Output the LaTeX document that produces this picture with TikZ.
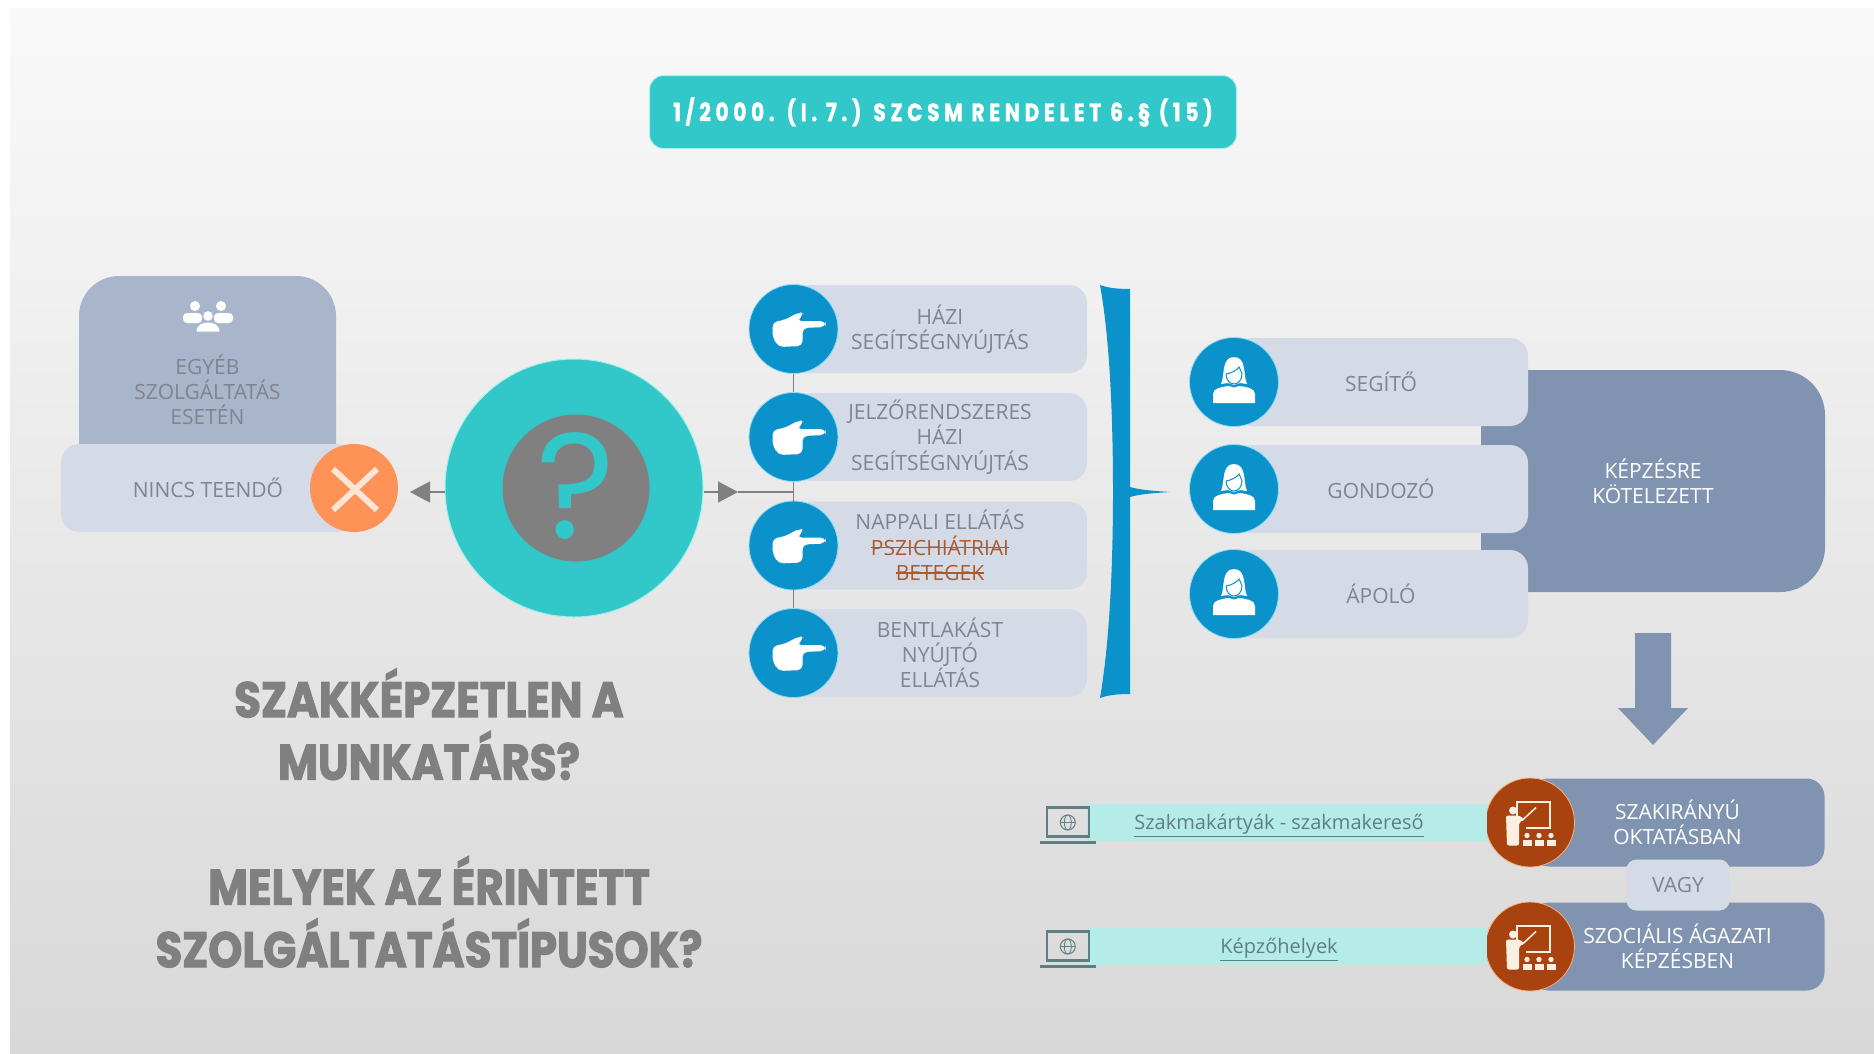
\documentclass[tikz,border=0pt]{standalone}
\usepackage{fontspec}
\usepackage{xcolor}
\usepackage{tikz}
\usetikzlibrary{positioning,arrows.meta}
\setmainfont{Open Sans}
\newfontfamily\headfont[FakeStretch=.87,BoldFeatures={FakeBold=2}]{Poppins}
\newfontfamily\titlefont[FakeStretch=.8,LetterSpace=19,BoldFeatures={FakeBold=1.5}]{Poppins}
\newfontfamily\signfont{Poppins}
\newsavebox{\strikebox}
\newcommand{\strikeit}[1]{\sbox{\strikebox}{#1}\rlap{\rule[.32em]{\wd\strikebox}{1.2pt}}\usebox{\strikebox}}
\definecolor{bgtop}{HTML}{F9F9F9}
\definecolor{bgbot}{HTML}{D8D8D8}
\definecolor{tealmain}{HTML}{32C8C9}
\definecolor{tealedge}{HTML}{A5F0EC}
\definecolor{bluedot}{HTML}{0C92CB}
\definecolor{bluedge}{HTML}{8FDDF5}
\definecolor{barlight}{HTML}{D5DBE6}
\definecolor{barmid}{HTML}{A9B5CA}
\definecolor{bardark}{HTML}{8094B1}
\definecolor{txtgrey}{HTML}{7F8590}
\definecolor{midgrey}{HTML}{808080}
\definecolor{orangedot}{HTML}{FF9257}
\definecolor{crossline}{HTML}{FBE5D6}
\definecolor{brownedge}{HTML}{F4B183}
\definecolor{browndot}{HTML}{A8430F}
\definecolor{cream}{HTML}{FBEFE2}
\definecolor{stripfill}{HTML}{B5ECE8}
\definecolor{linkgrey}{HTML}{5E8083}
\definecolor{strikeout}{HTML}{AD5A2B}
\tikzset{
  handicon/.pic={
    \fill[white,rounded corners=5pt] (-21,-7) -- (-9,-9) -- (6,-17) -- (11,-15) -- (3,-8) -- (32,-8) -- (32,-2) -- (9,-1) -- (9,17) -- (-15,18) -- (-21,8) -- cycle;
  },
  personicon/.pic={
    \fill[white] (-21,21) -- (-21,12) .. controls (-21,6) and (-12,5) .. (-6,4) -- (6,4) .. controls (12,5) and (21,6) .. (21,12) -- (21,21) -- cycle;
    \fill[white] (-13,2) .. controls (-9,-6) and (-13,-25) .. (0,-25) .. controls (13,-25) and (9,-6) .. (13,2) -- (6,1) -- (0,3) -- (-6,1) -- cycle;
    \draw[bluedot,line width=1pt] (-8,-8) .. controls (-2,-9) and (3,-12) .. (5,-15) .. controls (6,-12) and (8,-10) .. (8,-8) .. controls (8,-2) and (4,2) .. (0,2) .. controls (-4,2) and (-8,-2) .. (-8,-8);
    \draw[bluedot,line width=1pt] (-6,3) -- (0,5) -- (6,3);
  },
  groupicon/.pic={
    \fill[white] (-13,-10) circle (5);
    \fill[white] (13,-10) circle (5);
    \fill[white,rounded corners=4pt] (-25,7) -- (-25,-3) -- (-6,-3) -- (-6,7) -- cycle;
    \fill[white,rounded corners=4pt] (6,7) -- (6,-3) -- (25,-3) -- (25,7) -- cycle;
    \fill[white,draw=barmid,line width=1pt] (0,0) circle (5.5);
    \fill[white,draw=barmid,line width=1pt] (-12,16) .. controls (-12,8) and (-6,6) .. (0,6) .. controls (6,6) and (12,8) .. (12,16) -- cycle;
  },
  teachicon/.pic={
    \draw[cream,line width=2pt] (-13,-4) -- (-13,-21) -- (20,-21) -- (20,5) -- (-4,5);
    \draw[cream,line width=1.5pt] (-8,-2) -- (6,-15);
    \fill[cream] (-17,-12) circle (4);
    \fill[cream,rounded corners=2pt] (-24,-7) -- (-10,-7) -- (-6,-3) -- (-11,0) -- (-11,23) -- (-23,23) -- cycle;
    \foreach \px in {-3,9,21} {
      \fill[cream] (\px,13) circle (2.7);
      \fill[cream] (\px-4.5,23) rectangle (\px+4.5,17);
    }
  },
  laptopicon/.pic={
    \draw[linkgrey,line width=2.2pt] (-21,-15) rectangle (21,14);
    \draw[linkgrey,line width=1pt] (0,0) circle (7.5);
    \draw[linkgrey,line width=.8pt] (0,0) ellipse (3.5 and 7.5);
    \draw[linkgrey,line width=.8pt] (-7.5,0) -- (7.5,0);
    \fill[linkgrey] (-28,18) rectangle (28,21.5);
  }
}
\begin{document}
\begin{tikzpicture}[x=1pt,y=-1pt,on grid,font=\fontsize{21}{25.2}\selectfont,align=center]
    \tikzstyle{pillbar}=[fill=barlight,rounded corners=18pt,minimum width=294pt,minimum height=88pt,inner sep=0pt,text=txtgrey]
    \tikzstyle{darkbar}=[pillbar,fill=bardark,text=white]
    \tikzstyle{handdot}=[circle,fill=bluedot,draw=bluedge,line width=.8pt,minimum size=89pt,inner sep=0pt]
    \tikzstyle{browncirc}=[handdot,fill=browndot,draw=brownedge]
    \tikzstyle{stripbar}=[fill=stripfill,minimum width=400pt,minimum height=37pt,inner sep=0pt]
    \tikzstyle{linktext}=[text=linkgrey,yshift=-3pt,font=\fontsize{20}{24}\selectfont]
    \tikzstyle{greyline}=[draw=midgrey,line width=1.5pt]
    \tikzstyle{greytip}=[greyline,-{Triangle[length=20pt,width=21pt]}]
    \useasboundingbox (0,0) rectangle (1874,1053);
    \fill[white] (0,0) rectangle (1874,1053);
    \shade[top color=bgtop,bottom color=bgbot] (10,8) rectangle (1874,1053);

    \node[fill=tealmain,draw=tealedge,line width=1pt,rounded corners=14pt,minimum width=587pt,minimum height=73pt,text=white,font=\fontsize{25}{30}\selectfont\titlefont\bfseries] (rule) at (943,112) {1/2000. (I. 7.) SZCSM RENDELET 6.§ (15)};

    \node[fill=barmid,rounded corners=40pt,minimum width=257pt,minimum height=214pt] (other) at (207.5,383) {};
    \node[text=txtgrey] (othertext) at (207.5,390) {EGYÉB\\SZOLGÁLTATÁS\\ESETÉN};
    \pic at (208,316) {groupicon};
    \node[pillbar] (notodo) at (208,488) {NINCS TEENDŐ};
    \node[circle,fill=orangedot,minimum size=88pt,inner sep=0pt] (nope) [right=146pt of notodo] {};
    \draw[crossline,line width=6pt] ([shift={(-21,-19)}]nope.center) -- ([shift={(23,22)}]nope.center);
    \draw[crossline,line width=6pt] ([shift={(23,-19)}]nope.center) -- ([shift={(-21,22)}]nope.center);

    \node[circle,fill=tealmain,draw=tealedge,line width=1pt,minimum size=258pt,inner sep=0pt] (quest) at (574,488) {};
    \node[circle,fill=midgrey,minimum size=147pt,inner sep=0pt] (questin) at (576,488) {};
    \node[text=tealmain,font=\fontsize{150}{155}\selectfont\signfont] (questsign) at (576,486) {?};

    \node[pillbar] (hb1) at (940,329) {HÁZI\\SEGÍTSÉGNYÚJTÁS};
    \node[pillbar] (hb2) [below=108pt of hb1] {JELZŐRENDSZERES\\HÁZI\\SEGÍTSÉGNYÚJTÁS};
    \node[pillbar] (hb3) [below=108.5pt of hb2] {NAPPALI ELLÁTÁS\\{\color{strikeout}\strikeit{PSZICHIÁTRIAI}}\\{\color{strikeout}\strikeit{BETEGEK}}};
    \node[pillbar] (hb4) [below=107.5pt of hb3] {BENTLAKÁST\\NYÚJTÓ\\ELLÁTÁS};
    \node[handdot] (hd1) [left=146.5pt of hb1] {};
    \node[handdot] (hd2) [left=146.5pt of hb2] {};
    \node[handdot] (hd3) [left=146.5pt of hb3] {};
    \node[handdot] (hd4) [left=146.5pt of hb4] {};
    \foreach \n in {1,2,3,4} \pic at (hd\n) {handicon};

    \coordinate (junct) at (hd1 |- 0,492);
    \coordinate (ltip) at (410,492);
    \coordinate (rtip) at (738,492);
    \draw[greyline] (hd1) -- (hd2) -- (hd3) -- (hd4);
    \draw[greytip] (quest.west |- junct) -- (ltip);
    \draw[greytip] (quest.east |- junct) -- (rtip);
    \draw[greyline] (rtip) -- (junct);

    \fill[bluedot] (1100,285) .. controls (1108,288) and (1118,289) .. (1130,289) -- (1130,487) .. controls (1140,490) and (1155,491) .. (1170,492) .. controls (1155,493) and (1140,494) .. (1130,497) -- (1130,694) .. controls (1118,694) and (1108,695) .. (1100,698) .. controls (1110,640) and (1113,560) .. (1113,492) .. controls (1113,420) and (1110,340) .. (1100,285) -- cycle;

    \node[fill=bardark,rounded corners=45pt,minimum width=344pt,minimum height=222pt,inner sep=0pt,text=white] (mustlearn) at (1653,481) {KÉPZÉSRE\\KÖTELEZETT};
    \node[pillbar] (sb1) at (1381,382) {SEGÍTŐ};
    \node[pillbar] (sb2) [below=107pt of sb1] {GONDOZÓ};
    \node[pillbar] (sb3) [below=105pt of sb2] {ÁPOLÓ};
    \node[handdot] (sd1) [left=147pt of sb1] {};
    \node[handdot] (sd2) [left=147pt of sb2] {};
    \node[handdot] (sd3) [left=147pt of sb3] {};
    \foreach \n in {1,2,3} \pic at (sd\n) {personicon};

    \fill[bardark] (1635,633) -- (1671,633) -- (1671,708) -- (1688,708) -- (1653,745) -- (1618,708) -- (1635,708) -- cycle;

    \node[darkbar] (tb1) at (1677.5,822.5) {SZAKIRÁNYÚ\\OKTATÁSBAN};
    \node[darkbar] (tb2) [below=124pt of tb1] {SZOCIÁLIS ÁGAZATI\\KÉPZÉSBEN};
    \node[fill=barlight,rounded corners=10pt,minimum width=103pt,minimum height=51pt,inner sep=0pt,text=txtgrey] (either) at (1678,885) {VAGY};
    \node[browncirc] (td1) [left=147.5pt of tb1] {};
    \node[browncirc] (td2) [left=147.5pt of tb2] {};
    \foreach \n in {1,2} \pic at (td\n) {teachicon};

    \node[stripbar] (st1) [left=243pt of td1] {};
    \node[stripbar] (st2) [left=243pt of td2] {};
    \node[linktext] (lk1) [left=8pt of st1] {\underline{Szakmakártyák - szakmakereső}};
    \node[linktext] (lk2) [left=8pt of st2] {\underline{Képzőhelyek}};
    \foreach \n in {1,2} \pic at ([xshift=-19pt]st\n.west) {laptopicon};

    \node[text=midgrey,font=\fontsize{50}{62.5}\selectfont\headfont\bfseries] (asks) at (429,818) {SZAKKÉPZETLEN A\\MUNKATÁRS?\\ \\MELYEK AZ ÉRINTETT\\SZOLGÁLTATÁSTÍPUSOK?};
\end{tikzpicture}
\end{document}
